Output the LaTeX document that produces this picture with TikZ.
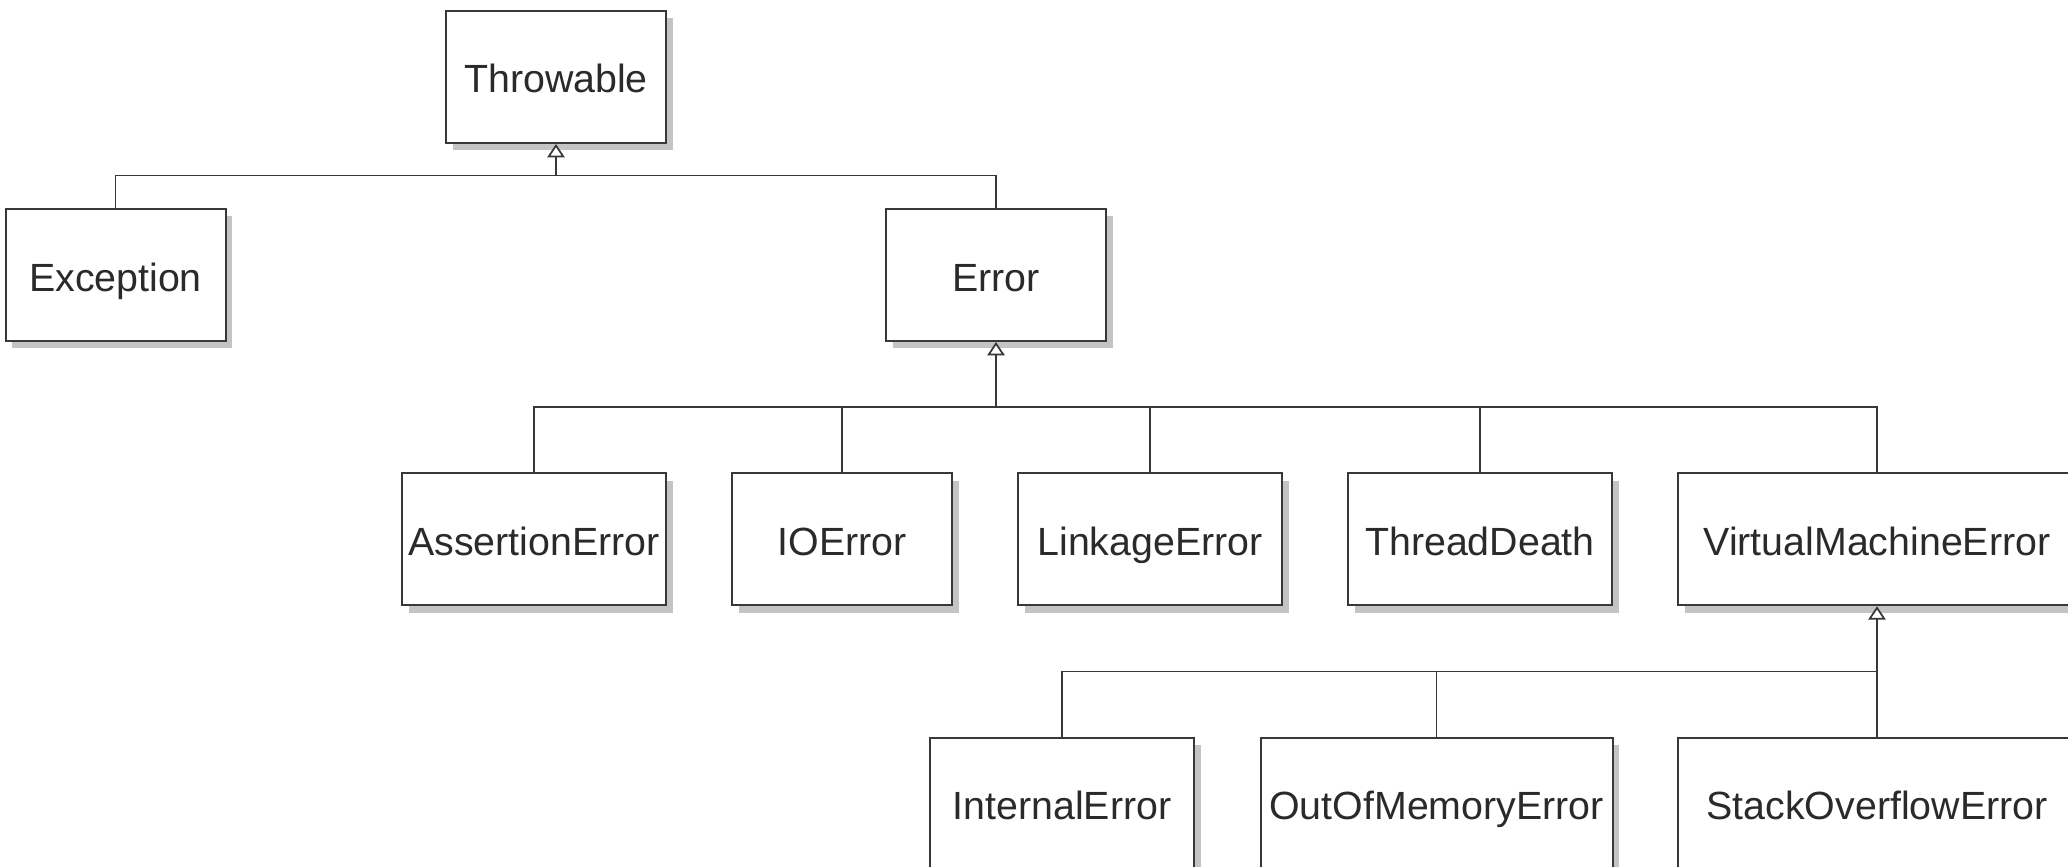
\documentclass[tikz,border=0pt]{standalone}
\usepackage{fontspec}
\setmainfont{Liberation Sans}
\usetikzlibrary{arrows.meta,shadows}
\definecolor{ink}{HTML}{2A2A2A}
\definecolor{edgecol}{HTML}{383838}
\definecolor{shade}{HTML}{C4C4C4}
\begin{document}
\begin{tikzpicture}[x=0.75pt,y=-0.75pt,
  cls/.style={draw=edgecol, line width=1.5pt, fill=white, inner sep=0pt,
    minimum height=99pt, text=ink, font=\fontsize{29.5}{34}\selectfont,
    text height=24pt, text depth=0pt,
    drop shadow={shadow xshift=5pt, shadow yshift=-5.5pt, fill=shade, opacity=1}},
  link/.style={draw=edgecol, line width=1.4pt},
  inh/.style={link, -{Triangle[fill=white, length=10pt, width=13pt, line width=1.3pt]}}]
\path[use as bounding box, clip] (0,0) rectangle (2068,867);
\fill[white] (0,0) rectangle (2068,867);

% level 0 / 1
\node[cls, minimum width=165pt] (thr) at (556,77) {Throwable};
\node[cls, minimum width=165pt] (exc) at (115.5,275) {Exception};
\node[cls, minimum width=165pt] (err) at (996,275) {Error};

% level 2
\node[cls, minimum width=198pt] (ae) at (534,539.3) {AssertionError};
\node[cls, minimum width=165pt] (io) at (842,539.3) {IOError};
\node[cls, minimum width=198pt] (le) at (1150,539.3) {LinkageError};
\node[cls, minimum width=198pt] (td) at (1480,539.3) {ThreadDeath};
\node[cls, minimum width=298.5pt] (vme) at (1877,539.3) {VirtualMachineError};

% level 3
\node[cls, minimum width=198pt] (ie) at (1062,803.7) {InternalError};
\node[cls, minimum width=264pt] (oom) at (1436.5,803.7) {OutOfMemoryError};
\node[cls, minimum width=298.5pt] (soe) at (1877,803.7) {StackOverflowError};

% junctions
\coordinate (j1) at (556,175.5);
\coordinate (j2) at (996,407);
\coordinate (j3) at (1877,671.5);

% Throwable hierarchy
\draw[link] (exc.north) |- (j1) -| (err.north);
\draw[inh] (j1) -- (thr.south);

% Error hierarchy
\draw[link] (ae.north) |- (j2) -| (vme.north);
\draw[link] (io.north) -- (io.north |- j2);
\draw[link] (le.north) -- (le.north |- j2);
\draw[link] (td.north) -- (td.north |- j2);
\draw[inh] (j2) -- (err.south);

% VirtualMachineError hierarchy
\draw[link] (ie.north) |- (j3) -- (soe.north);
\draw[link] (oom.north) -- (oom.north |- j3);
\draw[inh] (j3) -- (vme.south);
\end{tikzpicture}
\end{document}
